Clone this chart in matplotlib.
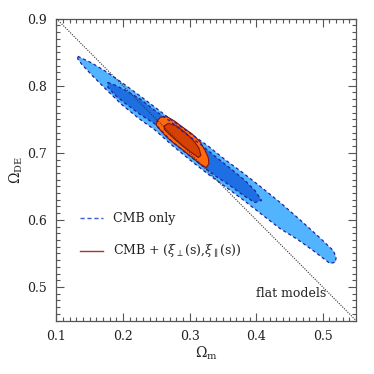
import matplotlib
matplotlib.use("Agg")

import matplotlib.pyplot as plt
from matplotlib.ticker import MultipleLocator

plt.rcParams["font.family"] = ["DejaVu Serif"]
plt.rcParams["mathtext.fontset"] = "dejavuserif"

# CMB only, outer contour (light blue)
cmb_outer_om = [0.132, 0.153, 0.173, 0.198, 0.224, 0.248, 0.274, 0.301, 0.328,
                0.353, 0.379, 0.406, 0.436, 0.466, 0.496, 0.516, 0.520,
                0.519, 0.511, 0.486, 0.462, 0.436, 0.406, 0.379, 0.353, 0.328,
                0.301, 0.274, 0.248, 0.224, 0.198, 0.173, 0.153, 0.138, 0.132]
cmb_outer_ode = [0.844, 0.834, 0.822, 0.805, 0.786, 0.768, 0.748, 0.729, 0.710,
                 0.690, 0.671, 0.650, 0.626, 0.600, 0.573, 0.554, 0.544,
                 0.537, 0.535, 0.554, 0.571, 0.587, 0.610, 0.631, 0.650, 0.668,
                 0.689, 0.711, 0.734, 0.751, 0.772, 0.796, 0.816, 0.832, 0.840]

# CMB only, inner contour (dark blue)
cmb_inner_om = [0.177, 0.188, 0.206, 0.226, 0.248, 0.271, 0.293, 0.316, 0.338,
                0.361, 0.383, 0.398, 0.408,
                0.398, 0.383, 0.358, 0.338, 0.316, 0.293, 0.271, 0.248, 0.226,
                0.203, 0.188, 0.177]
cmb_inner_ode = [0.805, 0.801, 0.792, 0.780, 0.763, 0.747, 0.729, 0.713, 0.695,
                 0.677, 0.659, 0.644, 0.629,
                 0.626, 0.635, 0.653, 0.666, 0.683, 0.701, 0.719, 0.743, 0.757,
                 0.774, 0.786, 0.798]

# CMB + xi(s), outer contour (orange)
xi_outer_om = [0.251, 0.256, 0.266, 0.278, 0.290, 0.304, 0.316, 0.323, 0.328,
               0.329, 0.325, 0.316, 0.304, 0.290, 0.278, 0.266, 0.256, 0.250]
xi_outer_ode = [0.747, 0.753, 0.754, 0.747, 0.738, 0.728, 0.716, 0.704, 0.693,
                0.684, 0.678, 0.683, 0.693, 0.704, 0.713, 0.723, 0.734, 0.741]

# CMB + xi(s), inner contour (dark orange)
xi_inner_om = [0.262, 0.268, 0.281, 0.295, 0.307, 0.314, 0.317, 0.313, 0.302,
               0.290, 0.278, 0.268, 0.262]
xi_inner_ode = [0.740, 0.744, 0.740, 0.729, 0.717, 0.707, 0.696, 0.693, 0.701,
                0.710, 0.720, 0.729, 0.735]

# flat models: Om + Ode = 1
flat_om = [0.10, 0.55]
flat_ode = [0.90, 0.45]

legend_labels = ["CMB only", r"CMB + ($\xi_\perp$(s),$\xi_\parallel$(s))"]


def closed(xs, ys):
    return list(xs) + [xs[0]], list(ys) + [ys[0]]


fig = plt.figure(figsize=(3.74, 3.74), dpi=100)
ax = fig.add_axes([0.151, 0.143, 0.801, 0.807])

dash = (0, (2.5, 2.2))
navy = "#23239a"

ax.fill(cmb_outer_om, cmb_outer_ode, color="#52b4ff", lw=0, zorder=1)
ax.fill(cmb_inner_om, cmb_inner_ode, color="#1d6fe3", lw=0, zorder=2)
ax.fill(xi_outer_om, xi_outer_ode, color="#ff6a0a", lw=0, zorder=3)
ax.fill(xi_inner_om, xi_inner_ode, color="#d64000", lw=0, zorder=4)

x, y = closed(xi_outer_om, xi_outer_ode)
ax.plot(x, y, color="#8b1010", lw=0.8, zorder=5)
x, y = closed(xi_inner_om, xi_inner_ode)
ax.plot(x, y, color="#8b1010", lw=0.8, zorder=5)

x, y = closed(cmb_outer_om, cmb_outer_ode)
ax.plot(x, y, color=navy, lw=0.9, ls=dash, zorder=6)
x, y = closed(cmb_inner_om, cmb_inner_ode)
ax.plot(x, y, color=navy, lw=0.9, ls=dash, zorder=6)

ax.plot(flat_om, flat_ode, color="#333333", lw=0.8, ls=(0, (1, 1.2)), zorder=7)

# hand-made legend
ax.plot([0.078, 0.155], [0.339, 0.339], transform=ax.transAxes,
        color="#3a5fd0", lw=1.0, ls=(0, (3, 2)))
ax.plot([0.078, 0.155], [0.230, 0.230], transform=ax.transAxes,
        color="#b03030", lw=1.0)
ax.text(0.189, 0.339, legend_labels[0], transform=ax.transAxes,
        va="center", ha="left", fontsize=9, color="#222222")
ax.text(0.189, 0.230, legend_labels[1], transform=ax.transAxes,
        va="center", ha="left", fontsize=9, color="#222222")
ax.text(0.666, 0.088, "flat models", transform=ax.transAxes,
        va="center", ha="left", fontsize=9, color="#222222")

ax.set_xlim(0.1, 0.55)
ax.set_ylim(0.45, 0.9)
ax.xaxis.set_major_locator(MultipleLocator(0.1))
ax.xaxis.set_minor_locator(MultipleLocator(0.01))
ax.yaxis.set_major_locator(MultipleLocator(0.1))
ax.yaxis.set_minor_locator(MultipleLocator(0.01))
ax.tick_params(which="both", direction="in", top=True, right=True,
               color="#555555", labelsize=9, labelcolor="#222222", width=0.8)
ax.tick_params(which="major", length=6, pad=7)
ax.tick_params(which="minor", length=3)
for s in ax.spines.values():
    s.set_color("#555555")
    s.set_linewidth(0.9)

ax.set_xlabel(r"$\Omega_{\rm m}$", fontsize=10, color="#222222", labelpad=1)
ax.set_ylabel(r"$\Omega_{\rm DE}$", fontsize=10, color="#222222", labelpad=1)

fig.savefig("out.png", dpi=100)
